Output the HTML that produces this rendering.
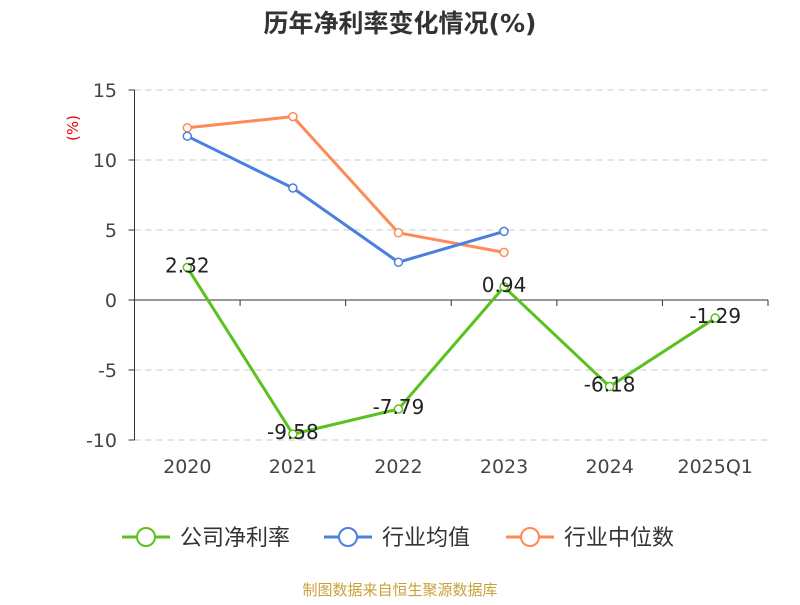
<!DOCTYPE html>
<html><head><meta charset="utf-8"><style>
body{margin:0;background:#fff;}
svg text{font-family:"DejaVu Sans","Noto Sans CJK SC",sans-serif;}
</style></head><body>
<svg id="c" width="800" height="600">
<text x="400" y="32" text-anchor="middle" font-size="25" font-weight="bold" fill="#333">历年净利率变化情况(%)</text>
<text x="78" y="128" font-size="15" fill="#e00" transform="rotate(-90 78 128)" text-anchor="middle">(%)</text>
<g id="grid"></g><g id="axes"></g><g id="series"></g>
<g>
<g><line x1="122" y1="537" x2="170" y2="537" stroke="#5bc11f" stroke-width="3"/><circle cx="146" cy="537" r="9" fill="#fff" stroke="#5bc11f" stroke-width="2"/><text x="180" y="545" font-size="22" fill="#333">公司净利率</text></g>
<g><line x1="324" y1="537" x2="372" y2="537" stroke="#4b7fe0" stroke-width="3"/><circle cx="348" cy="537" r="9" fill="#fff" stroke="#4b7fe0" stroke-width="2"/><text x="382" y="545" font-size="22" fill="#333">行业均值</text></g>
<g><line x1="506" y1="537" x2="554" y2="537" stroke="#ff8a55" stroke-width="3"/><circle cx="530" cy="537" r="9" fill="#fff" stroke="#ff8a55" stroke-width="2"/><text x="564" y="545" font-size="22" fill="#333">行业中位数</text></g>
</g>
<text x="400" y="595" text-anchor="middle" font-size="15" fill="#c9a13a">制图数据来自恒生聚源数据库</text>
</svg>
<script>
const categories=["2020","2021","2022","2023","2024","2025Q1"];
const companyValues=[2.32,-9.58,-7.79,0.94,-6.18,-1.29];
const industryAvg=[11.7,8.0,2.7,4.9];
const industryMedian=[12.3,13.1,4.8,3.4];
const yTicks=[15,10,5,0,-5,-10];
const NS="http://www.w3.org/2000/svg";
const x0=134.5,x1=768,bw=(x1-x0)/categories.length;
const xs=i=>x0+bw*(i+0.5);
const ys=v=>300-v*14;
function mk(t,a,p){const e=document.createElementNS(NS,t);for(const k in a)e.setAttribute(k,a[k]);p.appendChild(e);return e;}
const grid=document.getElementById('grid'),axes=document.getElementById('axes'),ser=document.getElementById('series');
yTicks.forEach(v=>{
 if(v!==0){const l=mk('line',{x1:x0,x2:x1,y1:ys(v),y2:ys(v),stroke:'#c8c8c8','stroke-dasharray':'6,5'},grid);
 
 }
 const tk=mk('line',{x1:x0-6,x2:x0,y1:ys(v),y2:ys(v),stroke:'#333'},axes);
 
 
 const t=mk('text',{x:117,y:ys(v)+7,'text-anchor':'end','font-size':19,fill:'#444'},axes);t.textContent=v;
 
 
});
const ya=mk('line',{x1:x0,x2:x0,y1:ys(15),y2:ys(-10),stroke:'#333'},axes);


const xa=mk('line',{x1:x0,x2:x1,y1:ys(0),y2:ys(0),stroke:'#333'},axes);


for(let i=0;i<=categories.length;i++){const tk=mk('line',{x1:x0+bw*i,x2:x0+bw*i,y1:300,y2:306,stroke:'#333'},axes);
 
 }
categories.forEach((c,i)=>{const t=mk('text',{x:xs(i),y:473,'text-anchor':'middle','font-size':19,fill:'#444'},axes);t.textContent=c;
 
 });
function series(vals,color,name,labels){
 const g=mk('g',{},ser);
 
 
 const p=mk('polyline',{points:vals.map((v,i)=>xs(i)+','+ys(v)).join(' '),fill:'none',stroke:color,'stroke-width':3},g);
 
 
 vals.forEach((v,i)=>{const c=mk('circle',{cx:xs(i),cy:ys(v),r:4,fill:'#fff',stroke:color,'stroke-width':1.5},g);
  
  
  if(labels){const t=mk('text',{x:xs(i),y:ys(v)+5,'text-anchor':'middle','font-size':20,fill:'#222'},g);t.textContent=v.toFixed(2);
  
  }});
}
series(industryMedian,'#ff8a55','industry-median-series',false);
series(industryAvg,'#4b7fe0','industry-avg-series',false);
series(companyValues,'#5bc11f','company-series',true);
</script>
</body></html>
